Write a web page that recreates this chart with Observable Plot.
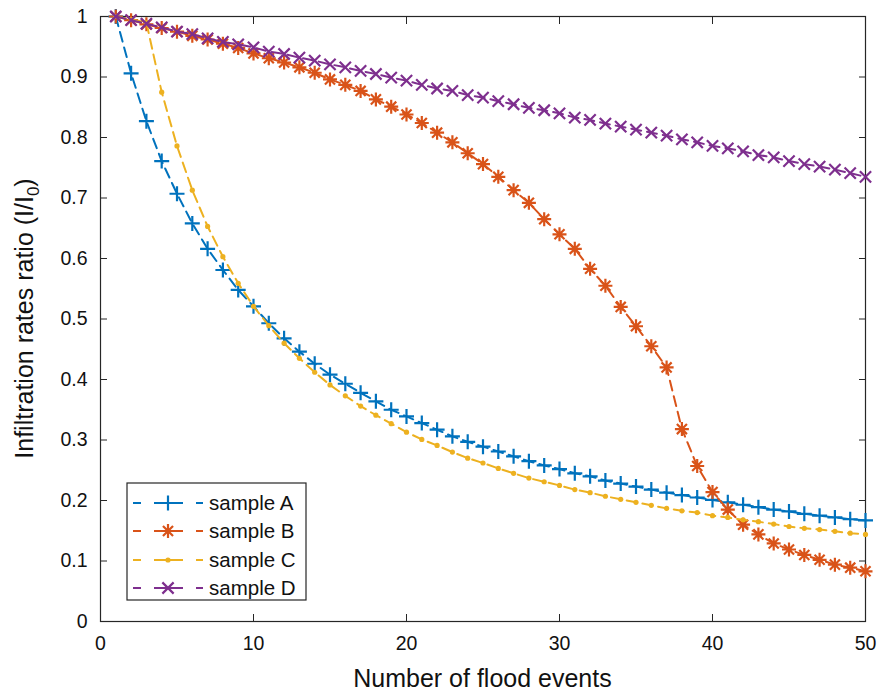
<!DOCTYPE html>
<html>
<head>
<meta charset="utf-8">
<script src="https://cdn.jsdelivr.net/npm/d3@7"></script>
<script src="https://cdn.jsdelivr.net/npm/@observablehq/plot@0.6"></script>
<style>
  html, body { margin: 0; padding: 0; background: #fff; }
  #chart { width: 882px; height: 692px; }
</style>
</head>
<body>
<div id="chart"></div>
<script>
// ---------- data ----------
const events = [1,2,3,4,5,6,7,8,9,10,11,12,13,14,15,16,17,18,19,20,21,22,23,24,25,
  26,27,28,29,30,31,32,33,34,35,36,37,38,39,40,41,42,43,44,45,46,47,48,49,50];

const sampleA = [1.000,0.906,0.827,0.761,0.707,0.658,0.616,0.581,0.548,0.521,
  0.493,0.468,0.446,0.426,0.408,0.393,0.378,0.364,0.350,0.339,
  0.328,0.317,0.306,0.297,0.289,0.281,0.273,0.265,0.258,0.252,
  0.245,0.240,0.233,0.228,0.223,0.218,0.213,0.209,0.205,0.201,
  0.197,0.193,0.189,0.185,0.182,0.178,0.175,0.172,0.169,0.167];

const sampleB = [1.000,0.994,0.987,0.981,0.975,0.968,0.962,0.955,0.948,0.939,
  0.931,0.924,0.916,0.907,0.896,0.887,0.877,0.863,0.851,0.838,
  0.824,0.808,0.792,0.774,0.756,0.735,0.713,0.692,0.665,0.640,
  0.616,0.583,0.555,0.520,0.488,0.455,0.420,0.318,0.257,0.214,
  0.185,0.160,0.144,0.129,0.119,0.110,0.102,0.094,0.089,0.083];

const sampleC = [1.000,0.995,0.990,0.875,0.786,0.713,0.653,0.603,0.559,0.521,
  0.489,0.460,0.435,0.412,0.391,0.373,0.356,0.341,0.327,0.313,
  0.301,0.291,0.280,0.270,0.262,0.253,0.245,0.237,0.231,0.225,
  0.218,0.213,0.207,0.202,0.197,0.192,0.187,0.183,0.180,0.175,
  0.172,0.168,0.165,0.161,0.157,0.154,0.152,0.149,0.146,0.144];

const sampleD = [1.000,0.994,0.988,0.982,0.975,0.971,0.964,0.958,0.954,0.949,
  0.942,0.938,0.932,0.927,0.921,0.916,0.910,0.905,0.899,0.894,
  0.887,0.881,0.877,0.870,0.866,0.860,0.855,0.849,0.845,0.840,
  0.833,0.829,0.823,0.818,0.813,0.808,0.803,0.797,0.792,0.786,
  0.782,0.777,0.771,0.767,0.761,0.756,0.752,0.747,0.741,0.735];

const seriesNames = ["sample A", "sample B", "sample C", "sample D"];
const seriesColors = ["#0072BD", "#D95319", "#EDB120", "#7E2F8E"];
const xTicks = [0, 10, 20, 30, 40, 50];
const yTicks = [0, 0.1, 0.2, 0.3, 0.4, 0.5, 0.6, 0.7, 0.8, 0.9, 1];
const xLabel = "Number of flood events";
const yLabelMain = "Infiltration rates ratio (I/I";
const yLabelSub = "0";
const yLabelEnd = ")";

// ---------- marker symbols (MATLAB-like) ----------
const plusSym = {draw(ctx, size) {
  const r = Math.sqrt(size / Math.PI);
  ctx.moveTo(-r, 0); ctx.lineTo(r, 0); ctx.moveTo(0, -r); ctx.lineTo(0, r);
}};
const starSym = {draw(ctx, size) {
  const r = Math.sqrt(size / Math.PI), d = r * 0.72;
  ctx.moveTo(-r, 0); ctx.lineTo(r, 0); ctx.moveTo(0, -r); ctx.lineTo(0, r);
  ctx.moveTo(-d, -d); ctx.lineTo(d, d); ctx.moveTo(-d, d); ctx.lineTo(d, -d);
}};
const dotSym = {draw(ctx, size) {
  const r = Math.sqrt(size / Math.PI);
  ctx.moveTo(r, 0); ctx.arc(0, 0, r, 0, 2 * Math.PI);
}};
const timesSym = {draw(ctx, size) {
  const r = Math.sqrt(size / Math.PI), d = r * 0.75;
  ctx.moveTo(-d, -d); ctx.lineTo(d, d); ctx.moveTo(-d, d); ctx.lineTo(d, -d);
}};

const seriesValues = [sampleA, sampleB, sampleC, sampleD];
const seriesSymbols = [plusSym, starSym, dotSym, timesSym];
const seriesR = [7.5, 7, 2.6, 7.5];
const seriesFilled = [false, false, true, false];
const dash = "10,6";

const marks = [];
seriesValues.forEach((vals, k) => {
  const data = vals.map((v, i) => ({x: events[i], y: v}));
  marks.push(Plot.line(data, {x: "x", y: "y", stroke: seriesColors[k], strokeWidth: 2, strokeDasharray: dash}));
  marks.push(Plot.dot(data, {x: "x", y: "y", symbol: seriesSymbols[k], r: seriesR[k],
    stroke: seriesFilled[k] ? "none" : seriesColors[k],
    fill: seriesFilled[k] ? seriesColors[k] : "none", strokeWidth: 2.2}));
});

const axisColor = "#262626";
const plot = Plot.plot({
  width: 882,
  height: 692,
  marginLeft: 100,
  marginRight: 17,
  marginTop: 16,
  marginBottom: 71,
  style: "font-family: 'Liberation Sans', Arial, sans-serif; font-size: 19.5px; color: #111; background: #fff; overflow: visible;",
  x: {domain: [0, 50]},
  y: {domain: [0, 1]},
  marks: [
    Plot.frame({stroke: axisColor, strokeWidth: 1.2}),
    // inward ticks on all four sides
    Plot.axisX(xTicks, {anchor: "bottom", tickSize: 7, dy: -7, tickFormat: () => "", label: null, stroke: axisColor}),
    Plot.axisX(xTicks, {anchor: "top", tickSize: 7, dy: 7, tickFormat: () => "", label: null, stroke: axisColor}),
    Plot.axisY(yTicks, {anchor: "left", tickSize: 7, dx: 7, tickFormat: () => "", label: null, stroke: axisColor}),
    Plot.axisY(yTicks, {anchor: "right", tickSize: 7, dx: -7, tickFormat: () => "", label: null, stroke: axisColor}),
    // tick labels
    Plot.axisX(xTicks, {anchor: "bottom", tickSize: 0, tickPadding: 15, tickFormat: d => String(d), label: null, fill: "#111"}),
    Plot.axisY(yTicks, {anchor: "left", tickSize: 0, tickPadding: 13, tickFormat: d => String(d), label: null, fill: "#111"}),
    ...marks
  ]
});
document.getElementById("chart").appendChild(plot);

// ---------- axis titles & legend (added to the same svg) ----------
const svg = d3.select(plot);
const W = 882, H = 692, mL = 100, mR = 17, mT = 16, mB = 71;

svg.append("text")
  .attr("x", (mL + W - mR) / 2).attr("y", H - 5)
  .attr("text-anchor", "middle")
  .attr("font-size", 25).attr("fill", "#111")
  .text(xLabel);

const yl = svg.append("text")
  .attr("transform", `translate(33, ${(mT + H - mB) / 2}) rotate(-90)`)
  .attr("text-anchor", "middle")
  .attr("font-size", 25).attr("fill", "#111");
yl.append("tspan").text(yLabelMain);
yl.append("tspan").attr("font-size", 17).attr("dy", 6).text(yLabelSub);
yl.append("tspan").attr("dy", -6).text(yLabelEnd);

const lg = svg.append("g");
lg.append("rect").attr("x", 127).attr("y", 483).attr("width", 179).attr("height", 117)
  .attr("fill", "#fff").attr("stroke", axisColor).attr("stroke-width", 1.2);
const rowY = [503, 531, 560, 588];
seriesNames.forEach((name, k) => {
  const y = rowY[k];
  lg.append("line").attr("x1", 133).attr("x2", 203).attr("y1", y).attr("y2", y)
    .attr("stroke", seriesColors[k]).attr("stroke-width", 2).attr("stroke-dasharray", "8,13");
  lg.append("path")
    .attr("d", d3.symbol(seriesSymbols[k], Math.PI * seriesR[k] * seriesR[k])())
    .attr("transform", `translate(168, ${y})`)
    .attr("fill", seriesFilled[k] ? seriesColors[k] : "none")
    .attr("stroke", seriesFilled[k] ? "none" : seriesColors[k])
    .attr("stroke-width", 2.2);
  lg.append("line").attr("x1", 156).attr("x2", 180).attr("y1", y).attr("y2", y)
    .attr("stroke", seriesColors[k]).attr("stroke-width", 2);
  lg.append("text").attr("x", 209).attr("y", y).attr("dy", "0.36em")
    .attr("text-anchor", "start")
    .attr("font-size", 20.5).attr("fill", "#111").text(name);
});
</script>
</body>
</html>
